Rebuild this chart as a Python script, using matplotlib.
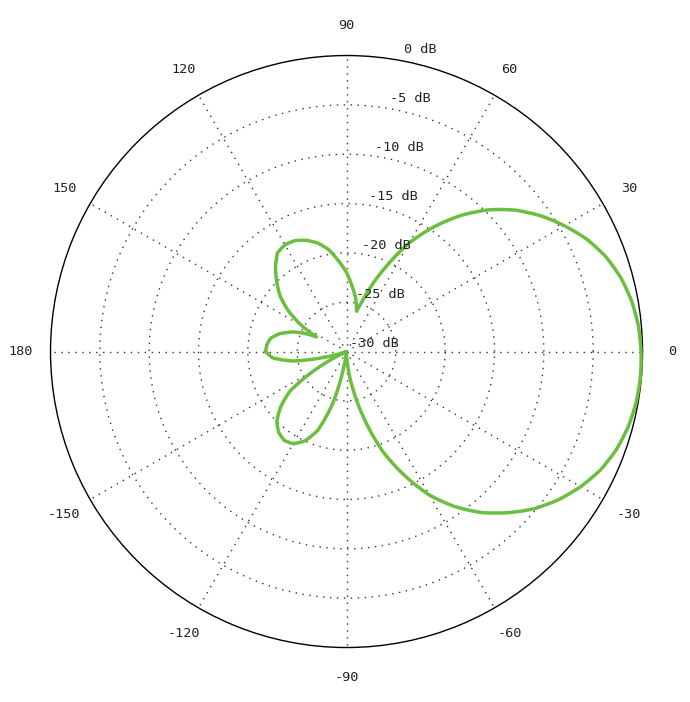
import numpy as np
import matplotlib.pyplot as plt

# radiation pattern: angle (deg) and gain (dB)
angles_deg = [-180, -175, -170, -165, -160, -155, -150, -145, -140, -135,
              -130, -125, -120, -115, -110, -105, -100, -95, -90, -85,
              -80, -75, -70, -65, -60, -55, -50, -45, -40, -35,
              -30, -25, -20, -15, -10, -5, 0, 5, 10, 15,
              20, 25, 30, 35, 40, 45, 50, 55, 60, 65,
              70, 73, 76, 80, 85, 90, 95, 100, 105, 110,
              115, 120, 125, 130, 135, 140, 145, 150, 154, 157,
              160, 165, 170, 175, 180]
gain_db = [-21.8, -22.5, -24.5, -28.0, -30.0, -30.0, -26.5, -23.0, -21.3, -20.0,
           -19.3, -19.0, -19.2, -20.0, -21.5, -24.5, -28.5, -30.0, -30.0, -28.5,
           -26.0, -22.8, -19.2, -16.2, -13.2, -10.8, -8.7, -6.9, -5.2, -3.8,
           -2.6, -1.6, -0.9, -0.45, -0.2, -0.1, -0.15, -0.3, -0.65, -1.2,
           -2.0, -3.1, -4.5, -6.0, -7.7, -9.7, -12.0, -14.6, -17.3, -20.5,
           -23.3, -24.8, -25.8, -24.6, -23.4, -22.0, -20.8, -19.5, -18.6, -18.0,
           -17.6, -17.5, -17.8, -18.8, -20.0, -21.2, -22.8, -24.8, -26.6, -25.2,
           -24.2, -23.0, -22.2, -21.9, -21.8]

theta_ticks = [0, 30, 60, 90, 120, 150, 180, 210, 240, 270, 300, 330]
theta_labels = ['0', '30', '60', '90', '120', '150', '180',
                '-150', '-120', '-90', '-60', '-30']
ring_levels = [-30, -25, -20, -15, -10, -5, 0]
ring_labels = ['-30 dB', '-25 dB', '-20 dB', '-15 dB', '-10 dB', '-5 dB', '0 dB']

font = 'DejaVu Sans Mono'

fig = plt.figure(figsize=(6.9, 7.02), dpi=100)
ax = fig.add_axes([0.0732, 0.0776, 0.858, 0.8433], projection='polar')

line, = ax.plot(np.deg2rad(angles_deg), gain_db, color='#6cbe40', lw=2.5,
                clip_on=False, zorder=3, solid_joinstyle='round')
# let the polar transform bend each segment along theta
line.get_path()._interpolation_steps = 12
ax.set_ylim(-30, 0)

# grid: dotted spokes and rings
ax.set_thetagrids(theta_ticks, theta_labels, fontfamily=font, fontsize=9.7)
ax.set_yticks(ring_levels[1:-1])
ax.set_yticklabels([])
ax.grid(True, color='#333333', linestyle=(0, (1, 4)), linewidth=1.0)
ax.tick_params(axis='x', pad=14.6, length=0, colors='#222222')
ax.tick_params(axis='y', length=0)
ax.spines['polar'].set_linewidth(1.0)
ax.spines['polar'].set_color('black')

# ring labels next to the 90 spoke
for lvl, lab in zip(ring_levels, ring_labels):
    ax.annotate(lab, xy=(np.deg2rad(82.6), lvl), xytext=(37.4, 5.8),
                textcoords='offset points', ha='right', va='center',
                fontfamily=font, fontsize=9.7, color='#222222',
                annotation_clip=False)

fig.savefig('out.png', dpi=100)
